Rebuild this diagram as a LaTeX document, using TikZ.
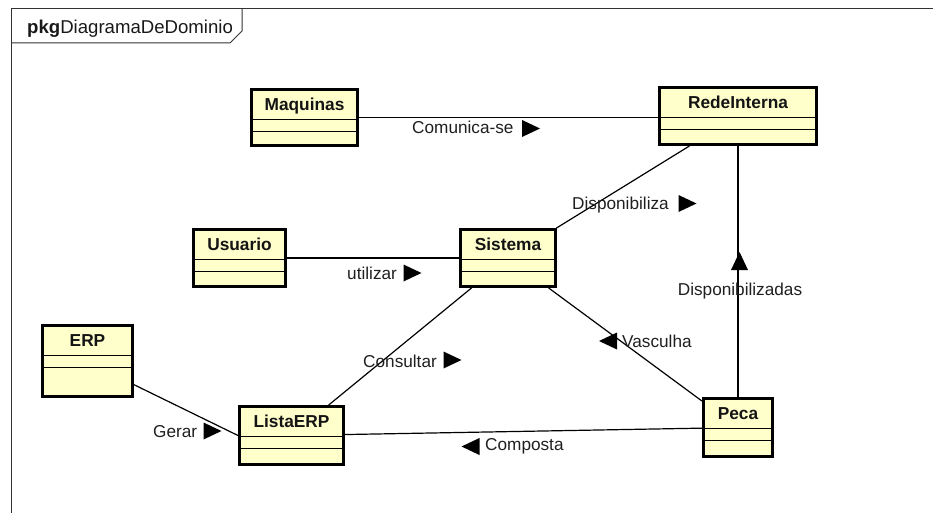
\documentclass[tikz,border=0pt]{standalone}
\usepackage{fontspec}
\setmainfont{Liberation Sans}
\usetikzlibrary{calc}
\definecolor{classfill}{HTML}{FFFFCC}

% UML class box: name, centre x, centre y, outer width, outer height, title
\newcommand{\umlclass}[6]{%
  \node[umlbox, minimum width={#4pt-2.6pt}, minimum height={#5pt-2.6pt}] (#1) at (#2,#3) {};
  \node[classname] (#1-title) at ($(#1.north)+(0,22.5)$) {#6};
  \draw[compart] ($(#1.north west)+(0,31.7)$) -- ($(#1.north east)+(0,31.7)$);
  \draw[compart] ($(#1.north west)+(0,43.2)$) -- ($(#1.north east)+(0,43.2)$);
}
% direction markers for association names
\newcommand{\triR}[2]{\fill (#1-9,#2-8.5) -- (#1+9,#2) -- (#1-9,#2+8.5) -- cycle;}
\newcommand{\triL}[2]{\fill (#1+9,#2-8.5) -- (#1-9,#2) -- (#1+9,#2+8.5) -- cycle;}
\newcommand{\triU}[2]{\fill (#1-8.5,#2+9) -- (#1,#2-9) -- (#1+8.5,#2+9) -- cycle;}

\begin{document}
\begin{tikzpicture}[x=1pt,y=-1pt,
  umlbox/.style={draw=black, line width=2.6pt, fill=classfill, inner sep=0pt},
  classname/.style={font=\fontsize{17.3}{20}\selectfont\bfseries, anchor=base, inner sep=0pt, text=black!92},
  compart/.style={line width=1pt},
  assoc/.style={line width=1.2pt},
  lbl/.style={font=\fontsize{17.2}{20}\selectfont, anchor=base west, inner sep=0pt, text=black!88},
  frame/.style={line width=1pt, draw=black!80}]

\useasboundingbox (0,0) rectangle (933,513);

% package frame and tab
\draw[frame] (11,513) -- (11,9) -- (933,9);
\draw[frame] (11,43) -- (230,43) -- (242,31) -- (242,9);
\node[font=\fontsize{18.6}{22}\selectfont, anchor=base west, inner sep=0pt, text=black!90] (pkg) at (27,34) {\textbf{pkg}DiagramaDeDominio};

% classes
\umlclass{maq}{304.5}{117.5}{109}{59}{Maquinas}
\umlclass{rede}{738}{116}{160}{60}{RedeInterna}
\umlclass{usu}{239.5}{258}{95}{60}{Usuario}
\umlclass{sis}{508}{258}{98}{60}{Sistema}
\umlclass{erp}{87.5}{361}{93}{74}{ERP}
\umlclass{lista}{291.5}{435.5}{107}{61}{ListaERP}
\umlclass{peca}{738}{427.5}{72}{61}{Peca}

% associations
\draw[assoc] (maq.east) -- (maq.east -| rede.west);
\draw[assoc] (rede) -- (sis);
\draw[assoc] (usu) -- (sis);
\draw[assoc] (sis) -- (lista);
\draw[assoc] (sis) -- (peca);
\draw[assoc] (rede) -- (peca);
\draw[assoc] (erp.-27) -- (lista.west);
\draw[assoc] (lista) -- (peca);

% association names
\node[lbl] (l-comunica) at (412,134) {Comunica-se};
\triR{531}{128.5}
\node[lbl] (l-disp) at (572,209) {Disponibiliza};
\triR{687.5}{203.5}
\node[lbl] (l-utilizar) at (347,279) {utilizar};
\triR{412.5}{273}
\node[lbl] (l-consultar) at (363,367) {Consultar};
\triR{452.5}{360}
\node[lbl] (l-gerar) at (153,437) {Gerar};
\triR{212.5}{431}
\node[lbl] (l-composta) at (485,450) {Composta};
\triL{470.5}{446.5}
\node[lbl] (l-vasculha) at (622,347) {Vasculha};
\triL{608}{341}
\node[lbl, anchor=base] (l-dispz) at (740,295) {Disponibilizadas};
\triU{739.5}{261}

\end{tikzpicture}
\end{document}
